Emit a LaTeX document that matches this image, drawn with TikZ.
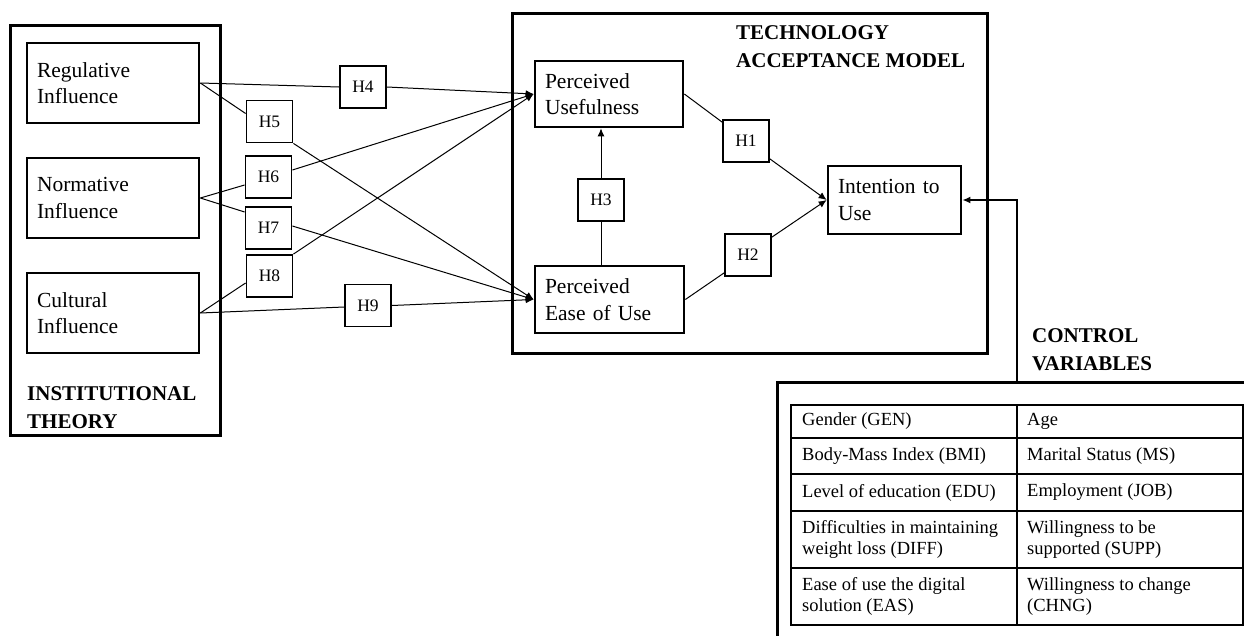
\documentclass[tikz,border=0pt]{standalone}
\usepackage{fontspec}
\setmainfont{Liberation Serif}
\usetikzlibrary{arrows.meta,calc}
\begin{document}
\begin{tikzpicture}[x=1pt,y=-1pt,
  bigbox/.style={draw, line width=2.7pt, align=left, inner xsep=10pt, inner ysep=0pt, font=\fontsize{21.5}{26.5}\selectfont},
  hyp/.style={draw, line width=1.8pt, minimum width=46pt, minimum height=42pt, inner sep=0pt, font=\fontsize{17.5}{20}\selectfont},
  frame/.style={draw, line width=3pt},
  title/.style={align=left, inner sep=0pt, anchor=west, font=\fontsize{21}{28}\selectfont\bfseries},
  conn/.style={line width=1pt},
  arr/.style={conn, -{Latex[length=8pt,width=7pt]}},
  cell/.style={align=left, inner sep=0pt, anchor=west, font=\fontsize{18.5}{21}\selectfont},
  gridline/.style={line width=1.4pt}]

\useasboundingbox (0,0) rectangle (1244,635);

% frames
\draw[frame] (10,25) rectangle (220,435);
\draw[frame] (512,13) rectangle (987,353);
\draw[frame] (777,640) -- (777,382) -- (1250,382);

% titles
\node[title] (inst) at (27,408) {INSTITUTIONAL\\THEORY};
\node[title] (tam) at (736,47) {TECHNOLOGY\\ACCEPTANCE MODEL};
\node[title] (cvt) at (1032,350) {CONTROL\\VARIABLES};

% construct boxes
\node[bigbox, text width=152pt, minimum height=80pt] (reg) at (113,83) {Regulative\\Influence};
\node[bigbox, text width=152pt, minimum height=80pt] (nor) at (113,198) {Normative\\Influence};
\node[bigbox, text width=152pt, minimum height=80pt] (cul) at (113,313) {Cultural\\Influence};
\node[bigbox, text width=128pt, minimum height=66pt] (pu) at (609,94) {Perceived\\Usefulness};
\node[bigbox, text width=129pt, minimum height=67pt] (peu) at (609.5,299.5) {Perceived\\Ease of Use};
\node[bigbox, text width=113pt, minimum height=68pt] (itu) at (894.5,200) {Intention to\\Use};

% hypothesis boxes
\node[hyp] (h1) at (746,141) {H1};
\node[hyp] (h2) at (748,255) {H2};
\node[hyp] (h3) at (601,200) {H3};
\node[hyp] (h4) at (363,87) {H4};
\node[hyp] (h5) at (269.5,121.5) {H5};
\node[hyp] (h6) at (268.5,177) {H6};
\node[hyp] (h7) at (268.5,228) {H7};
\node[hyp] (h8) at (269.5,276) {H8};
\node[hyp] (h9) at (368,305.5) {H9};

% institutional connectors
\draw[conn] (reg.east) -- (h4.west);
\draw[arr] (h4.east) -- (pu.west);
\draw[conn] (reg.east) -- ([yshift=8pt]h5.west);
\draw[arr] (h5.south east) -- (peu.west);
\draw[conn] (nor.east) -- ([yshift=-8pt]h6.west);
\draw[arr] ([yshift=7pt]h6.east) -- (pu.west);
\draw[conn] (nor.east) -- ([yshift=16pt]h7.west);
\draw[arr] ([yshift=2pt]h7.east) -- (peu.west);
\draw[conn] (cul.east) -- ([yshift=-7pt]h8.west);
\draw[arr] (h8.north east) -- (pu.west);
\draw[conn] (cul.east) -- ([yshift=-1.5pt]h9.west);
\draw[arr] (h9.east) -- (peu.west);

% TAM connectors
\draw[conn] (peu.north -| h3) -- (h3);
\draw[arr] (h3) -- (h3 |- pu.south);
\draw[conn] (pu.east) -- ([yshift=-3pt]h1.north west);
\draw[arr] ([yshift=4pt]h1.south east) -- (itu.west);
\draw[conn] (peu.east) -- ([yshift=4pt]h2.south west);
\draw[arr] ([yshift=-4pt]h2.north east) -- (itu.west);

% control variables
\coordinate (cvtop) at (1017,382);
\draw[arr, line width=1.6pt] (cvtop) |- (itu.east);

\draw[gridline] (791,405) rectangle (1243,625);
\foreach \yy in {438,474,511,568} \draw[gridline] (791,\yy) -- (1243,\yy);
\draw[gridline] (1017,405) -- (1017,625);

\node[cell] (c11) at (802,421.5) {Gender (GEN)};
\node[cell] (c12) at (1027,421.5) {Age};
\node[cell] (c21) at (802,456) {Body-Mass Index (BMI)};
\node[cell] (c22) at (1027,456) {Marital Status (MS)};
\node[cell] (c31) at (802,492.5) {Level of education (EDU)};
\node[cell] (c32) at (1027,492.5) {Employment (JOB)};
\node[cell] (c41) at (802,539.5) {Difficulties in maintaining\\weight loss (DIFF)};
\node[cell] (c42) at (1027,539.5) {Willingness to be\\supported (SUPP)};
\node[cell] (c51) at (802,596.5) {Ease of use the digital\\solution (EAS)};
\node[cell] (c52) at (1027,596.5) {Willingness to change\\(CHNG)};
\end{tikzpicture}
\end{document}
